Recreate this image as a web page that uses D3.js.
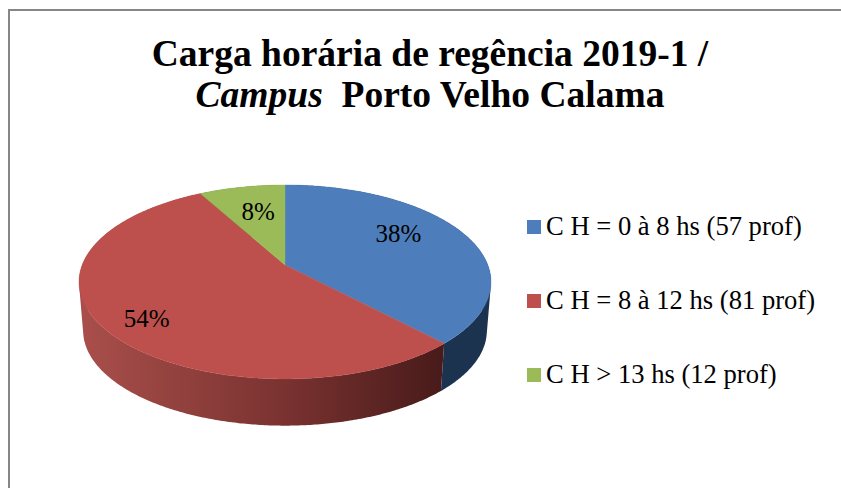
<!DOCTYPE html>
<html>
<head>
<meta charset="utf-8">
<script src="https://cdn.jsdelivr.net/npm/d3@7"></script>
<style>
  html, body { margin: 0; padding: 0; background: #fff; }
  svg { display: block; }
  text { font-family: "Liberation Serif", serif; fill: #000; white-space: pre; }
  .title { font-size: 37.5px; font-weight: bold; }
  .label { font-size: 25px; }
  .legend-text { font-size: 26.6px; }
</style>
</head>
<body>
<svg id="chart" width="841" height="488"></svg>
<script>
// chart values
const categories = ['C H = 0 à 8 hs (57 prof)', 'C H = 8 à 12 hs (81 prof)', 'C H > 13 hs (12 prof)'];
const teachers = [57, 81, 12];
const percentLabels = ['38%', '54%', '8%'];
const colors = ['#4d7ebb', '#bd4f4c', '#9bbb59'];
const sideColors = ['#1c3350', 'url(#red-side)', '#5c7030'];

// tilted pie, found by measuring the rim of the picture
const pieCenter = { x: 285, y: 265 };
const tilt = { a: 202.8, b: 94, k: 0.175 };
const depth = { scale: 0.98, drop: 49 };

// label placement inside each slice (radius fraction, degrees off the slice middle)
const labelRadius = [0.69, 0.81, 0.64];
const labelTurn = [-9, -4, 1.2];

const svg = d3.select('#chart');

const defs = svg.append('defs');
const redSide = defs.append('linearGradient')
                    .attr('id', 'red-side')
                    .attr('gradientUnits', 'userSpaceOnUse')
                    .attr('x1', 80).attr('y1', 0)
                    .attr('x2', 442).attr('y2', 0);
redSide.append('stop').attr('offset', '0%').attr('stop-color', '#a94f4b');
redSide.append('stop').attr('offset', '55%').attr('stop-color', '#7b3331');
redSide.append('stop').attr('offset', '100%').attr('stop-color', '#481b1a');

// frame runs off the right and bottom of the picture
svg.append('path')
   .attr('d', 'M9,488V10H841')
   .attr('fill', 'none')
   .attr('stroke', '#868686')
   .attr('stroke-width', 2);

const title = svg.append('g').attr('class', 'title').attr('text-anchor', 'middle');
title.append('text').attr('x', 430).attr('y', 66).text('Carga horária de regência 2019-1 /');
const title2 = title.append('text').attr('x', 430).attr('y', 107);
title2.append('tspan').attr('font-style', 'italic').text('Campus');
title2.append('tspan').text('  Porto Velho Calama');

/*
 * maps a point of the flat pie (angle clockwise from the top, radius 0-1) to the screen
 */
function project(angle, r, scale, drop) {
  const u = r * Math.sin(angle);
  const v = r * Math.cos(angle);
  const w = 1 + tilt.k * v;
  return [pieCenter.x + scale * tilt.a * u / w,
          pieCenter.y - scale * tilt.b * v / w + drop];
}

function rimAngles(d) {
  const n = Math.ceil((d.endAngle - d.startAngle) / 0.01);
  return d3.range(n + 1).map(i => d.startAngle + (d.endAngle - d.startAngle) * i / n);
}

const pie = d3.pie().sort(null);
const slices = pie(teachers);
const line = d3.line();

// side walls first, as one path per slice so the strips leave no seams
// every strip gets the same winding, otherwise overlaps cancel out at the silhouette
function wallPath(d) {
  return d3.pairs(rimAngles(d)).map(([a0, a1]) => {
    const quad = [
      project(a0, 1, 1, 0), project(a1, 1, 1, 0),
      project(a1, 1, depth.scale, depth.drop), project(a0, 1, depth.scale, depth.drop)
    ];
    if (d3.polygonArea(quad) < 0) quad.reverse();
    return line(quad) + 'Z';
  }).join('');
}

svg.append('g').attr('id', 'walls')
   .selectAll('path')
   .data(slices)
   .enter()
   .append('path')
   .attr('d', wallPath)
   .attr('fill', (d, i) => sideColors[i])
   .attr('stroke', 'none');

// top faces
svg.append('g').attr('id', 'slices')
   .selectAll('path')
   .data(slices)
   .enter()
   .append('path')
   .attr('d', d => line([[pieCenter.x, pieCenter.y]].concat(rimAngles(d).map(a => project(a, 1, 1, 0)))) + 'Z')
   .attr('fill', (d, i) => colors[i])
   .attr('stroke', (d, i) => colors[i])
   .attr('stroke-width', 0.4);

svg.append('g').attr('id', 'labels')
   .selectAll('text')
   .data(slices)
   .enter()
   .append('text')
   .attr('class', 'label')
   .attr('text-anchor', 'middle')
   .attr('dy', '0.33em')
   .attr('x', (d, i) => project((d.startAngle + d.endAngle) / 2 + labelTurn[i] * Math.PI / 180, labelRadius[i], 1, 0)[0])
   .attr('y', (d, i) => project((d.startAngle + d.endAngle) / 2 + labelTurn[i] * Math.PI / 180, labelRadius[i], 1, 0)[1])
   .text((d, i) => percentLabels[i]);

// legend
const legendY = d3.scalePoint().domain(categories).range([235, 383]);
const legend = svg.append('g').attr('id', 'legend')
                  .selectAll('g')
                  .data(categories)
                  .enter()
                  .append('g')
                  .attr('transform', d => 'translate(527,' + legendY(d) + ')');
legend.append('rect')
      .attr('y', -15)
      .attr('width', 14)
      .attr('height', 14)
      .attr('fill', (d, i) => colors[i]);
legend.append('text')
      .attr('class', 'legend-text')
      .attr('x', 19)
      .text(d => d);
</script>
</body>
</html>
